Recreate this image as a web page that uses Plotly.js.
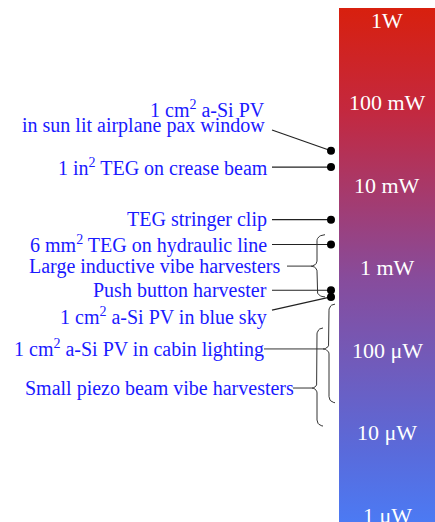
<!DOCTYPE html>
<html>
<head>
<meta charset="utf-8">
<script src="https://cdn.plot.ly/plotly-3.0.1.min.js"></script>
<style>html,body{margin:0;padding:0;background:#fff;}#chart{width:435px;height:522px;}</style>
</head>
<body>
<div id="chart"></div>
<script>
// ---- data ----
const tickPower = [1, 0.1, 0.01, 0.001, 1e-4, 1e-5, 1e-6];
const tickLabels = ["1W", "100 mW", "10 mW", "1 mW", "100 μW", "10 μW", "1 μW"];

const pointNames = [
  "1 cm<sup>2</sup> a-Si PV<br>in sun lit airplane pax window",
  "1 in<sup>2</sup> TEG on crease beam",
  "TEG stringer clip",
  "6 mm<sup>2</sup> TEG on hydraulic line",
  "Push button harvester",
  "1 cm<sup>2</sup> a-Si PV in blue sky"
];
const pointPower = [0.026, 0.0165, 0.0038, 0.0019, 0.00053, 0.00044];

const rangeNames = [
  "Large inductive vibe harvesters",
  "1 cm<sup>2</sup> a-Si PV in cabin lighting",
  "Small piezo beam vibe harvesters"
];
const rangeHigh = [0.0025, 0.00036, 0.000185];
const rangeLow = [0.00044, 0.000023, 0.000012];

// ---- layout / placement (not data) ----
const dotX = 331;
const pointLabelPower = [0.0658, null, null, null, null, 0.000258]; // null -> level with dot
const pointLeadPower = [0.0464, null, null, null, null, 0.000305];
const pointTextRight = [266, 269, 268, 268, 268, 268];
const pointLeadStart = [272, 272, 272, 272, 272, 272];
const rangeTipPower = [0.00104, 0.000103, 0.0000346];
const rangeTextRight = [281, 265, 295];
const rangeLeadStart = [287, 264, 293];
const braceEnd = [325, 335, 323];
const braceStem = [317, 329, 317];
const braceTip = [311, 323, 312];
const pxPerDecade = 82.5;
const yRange = [-6.0848, 0.2425];
const barTop = 0.1455;
const barX0 = 339, barX1 = 436;
const blue = "#1a1aff";
const serif = "Liberation Serif, Times New Roman, serif";

const traces = [];
const annotations = [];

// gradient bar
traces.push({
  type: "scatter", mode: "lines", hoverinfo: "skip",
  x: [barX0, barX1, barX1, barX0, barX0],
  y: [Math.pow(10, barTop), Math.pow(10, barTop), 5e-7, 5e-7, Math.pow(10, barTop)],
  fill: "toself", line: {width: 0},
  fillgradient: {
    type: "vertical",
    colorscale: [[0, "rgb(72,126,250)"], [0.17, "rgb(90,106,218)"], [0.49, "rgb(135,76,156)"], [0.81, "rgb(196,40,62)"], [1, "rgb(216,32,14)"]]
  }
});

// bar labels
tickPower.forEach((p, i) => {
  annotations.push({
    x: (barX0 + 435) / 2, y: Math.log10(p), xref: "x", yref: "y",
    text: tickLabels[i], showarrow: false, xanchor: "center", yanchor: "middle",
    font: {family: serif, size: 22, color: "#ffffff"}
  });
});

// point items: leader lines + labels
pointNames.forEach((name, i) => {
  const dotP = pointPower[i];
  const labP = pointLabelPower[i] === null ? dotP : pointLabelPower[i];
  const leadP = pointLeadPower[i] === null ? dotP : pointLeadPower[i];
  traces.push({
    type: "scatter", mode: "lines", hoverinfo: "skip",
    x: [pointLeadStart[i], dotX], y: [leadP, dotP],
    line: {color: "#222", width: 1.2}
  });
  const lines = name.split("<br>");
  const step = 16.5 / pxPerDecade;
  lines.forEach((ln, k) => {
    const off = (k - (lines.length - 1) / 2) * step;
    annotations.push({
      x: pointTextRight[i], y: Math.log10(labP) - off, xref: "x", yref: "y",
      text: ln, showarrow: false, xanchor: "right", yanchor: "middle",
      borderpad: 0,
      font: {family: serif, size: 20, color: blue}
    });
  });
});

// range items: braces + leaders + labels
function bracePoints(hi, lo, tip, xe, xs, xt) {
  const L1 = Math.log10(hi), L2 = Math.log10(lo), Lm = Math.log10(tip);
  const r = 6 / pxPerDecade, rt = 5 / pxPerDecade;
  const xs_ = [], ls = [];
  const N = 8;
  for (let j = 0; j <= N; j++) { const t = j / N * Math.PI / 2; xs_.push(xe - (xe - xs) * Math.sin(t)); ls.push(L1 - r + r * Math.cos(t)); }
  for (let j = 0; j <= N; j++) { const t = j / N * Math.PI / 2; xs_.push(xt + (xs - xt) * Math.cos(t)); ls.push(Lm + rt - rt * Math.sin(t)); }
  for (let j = 0; j <= N; j++) { const t = j / N * Math.PI / 2; xs_.push(xt + (xs - xt) * Math.sin(t)); ls.push(Lm - rt + rt * Math.cos(t)); }
  for (let j = 0; j <= N; j++) { const t = j / N * Math.PI / 2; xs_.push(xs + (xe - xs) * (1 - Math.cos(t))); ls.push(L2 + r - r * Math.sin(t)); }
  return {x: xs_, y: ls.map(v => Math.pow(10, v))};
}
rangeNames.forEach((name, i) => {
  const tip = rangeTipPower[i];
  const b = bracePoints(rangeHigh[i], rangeLow[i], tip, braceEnd[i], braceStem[i], braceTip[i]);
  traces.push({type: "scatter", mode: "lines", hoverinfo: "skip", x: b.x, y: b.y, line: {color: "#333", width: 1}});
  traces.push({type: "scatter", mode: "lines", hoverinfo: "skip", x: [rangeLeadStart[i], braceTip[i]], y: [tip, tip], line: {color: "#333", width: 1}});
  annotations.push({
    x: rangeTextRight[i], y: Math.log10(tip), xref: "x", yref: "y",
    text: name, showarrow: false, xanchor: "right", yanchor: "middle", borderpad: 0,
    font: {family: serif, size: 20, color: blue}
  });
});

// dots on top
traces.push({
  type: "scatter", mode: "markers", hoverinfo: "skip",
  x: pointPower.map(() => dotX), y: pointPower,
  marker: {color: "#000", size: 8}
});

const layout = {
  width: 435, height: 522,
  margin: {l: 0, r: 0, t: 0, b: 0},
  paper_bgcolor: "#fff", plot_bgcolor: "#fff",
  showlegend: false,
  xaxis: {range: [0, 435], visible: false, fixedrange: true},
  yaxis: {type: "log", range: yRange, visible: false, fixedrange: true},
  annotations: annotations
};

Plotly.newPlot("chart", traces, layout, {staticPlot: true, displayModeBar: false});
</script>
</body>
</html>
